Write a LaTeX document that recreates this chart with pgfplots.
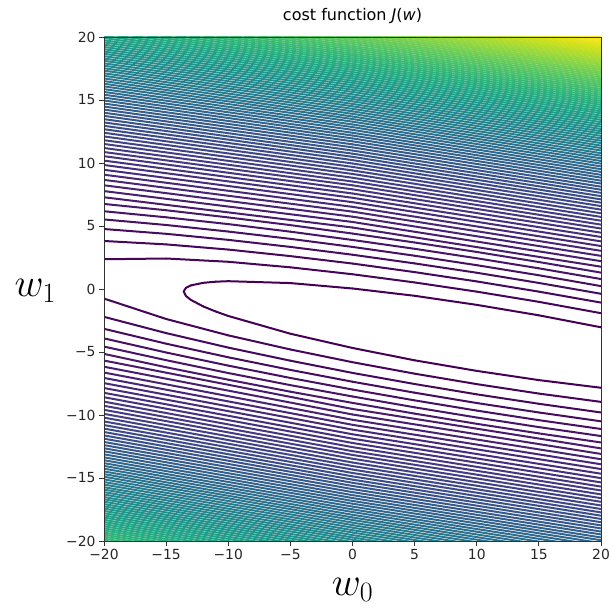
\documentclass[border=0pt]{standalone}
\usepackage{fix-cm}
\usepackage{fontspec}
\setmainfont{DejaVu Sans}
\usepackage{pgfplots}
\pgfplotsset{compat=1.18}
\pgfplotsset{lv/.style={mesh, point meta=#1, line width=2pt, line cap=round, no markers}}
\begin{document}
\begin{tikzpicture}
\begin{axis}[
  name=ax,
  width=497pt, height=504pt, scale only axis,
  xmin=-20, xmax=20, ymin=-20, ymax=20,
  xtick={-20,-15,-10,-5,0,5,10,15,20},
  ytick={-20,-15,-10,-5,0,5,10,15,20},
  xticklabels={−20,−15,−10,−5,0,5,10,15,20},
  yticklabels={−20,−15,−10,−5,0,5,10,15,20},
  tick pos=left, tick align=outside,
  major tick length=4.9pt,
  tick style={black!80, line width=0.8pt},
  axis line style={black!80, line width=0.8pt},
  ticklabel style={font=\fontsize{13.9}{14}\selectfont, text=black!85},
  title={cost function \textit{J}(\textit{w})},
  title style={font=\fontsize{16}{16}\selectfont, at={(0.5,1)}, anchor=base, yshift=10pt},
  colormap/viridis,
  point meta min=1, point meta max=98,
  axis on top,
]
\addplot[lv=1] coordinates {(20,-3.04)(15,-2.09)(10,-1.26)(5,-0.54)(0,0.04)(-5,0.47)(-10,0.62)(-11,0.58)(-12,0.49)(-13,0.29)(-13.4,0.10)(-13.59,-0.20)(-13.4,-0.56)(-13,-0.87)(-12,-1.39)(-11,-1.79)(-10,-2.14)(-5,-3.55)(0,-4.68)(5,-5.66)(10,-6.50)(15,-7.23)(20,-7.84)};
\addplot[lv=2] coordinates {(-20,2.36)(-15,2.42)(-10,2.16)(-5,1.72)(0,1.17)(5,0.52)(10,-0.21)(15,-1.02)(20,-1.92)};
\addplot[lv=2] coordinates {(-20,-0.76)(-15,-2.38)(-10,-3.68)(-5,-4.80)(0,-5.81)(5,-6.72)(10,-7.55)(15,-8.30)(20,-8.96)};
\addplot[lv=3] coordinates {(-20,3.81)(-15,3.54)(-10,3.13)(-5,2.61)(0,2.02)(5,1.34)(10,0.60)(15,-0.21)(20,-1.08)};
\addplot[lv=3] coordinates {(-20,-2.21)(-15,-3.50)(-10,-4.65)(-5,-5.69)(0,-6.66)(5,-7.54)(10,-8.36)(15,-9.11)(20,-9.80)};
\addplot[lv=4] coordinates {(-20,4.76)(-15,4.38)(-10,3.90)(-5,3.34)(0,2.72)(5,2.03)(10,1.29)(15,0.48)(20,-0.38)};
\addplot[lv=4] coordinates {(-20,-3.16)(-15,-4.34)(-10,-5.42)(-5,-6.42)(0,-7.36)(5,-8.23)(10,-9.05)(15,-9.80)(20,-10.50)};
\addplot[lv=5] coordinates {(-20,5.52)(-15,5.08)(-10,4.56)(-5,3.98)(0,3.34)(5,2.64)(10,1.89)(15,1.09)(20,0.23)};
\addplot[lv=5] coordinates {(-20,-3.92)(-15,-5.04)(-10,-6.08)(-5,-7.06)(0,-7.98)(5,-8.84)(10,-9.65)(15,-10.41)(20,-11.11)};
\addplot[lv=6] coordinates {(-20,6.17)(-15,5.69)(-10,5.15)(-5,4.55)(0,3.89)(5,3.19)(10,2.44)(15,1.64)(20,0.79)};
\addplot[lv=6] coordinates {(-20,-4.57)(-15,-5.65)(-10,-6.67)(-5,-7.63)(0,-8.53)(5,-9.39)(10,-10.20)(15,-10.96)(20,-11.67)};
\addplot[lv=7] coordinates {(-20,6.75)(-15,6.25)(-10,5.68)(-5,5.07)(0,4.40)(5,3.69)(10,2.94)(15,2.14)(20,1.30)};
\addplot[lv=7] coordinates {(-20,-5.15)(-15,-6.21)(-10,-7.20)(-5,-8.15)(0,-9.04)(5,-9.89)(10,-10.70)(15,-11.46)(20,-12.18)};
\addplot[lv=8] coordinates {(-20,7.28)(0,4.88)(20,1.77)};
\addplot[lv=8] coordinates {(-20,-5.68)(0,-9.52)(20,-12.65)};
\addplot[lv=9] coordinates {(-20,7.77)(0,5.32)(20,2.21)};
\addplot[lv=9] coordinates {(-20,-6.17)(0,-9.96)(20,-13.09)};
\addplot[lv=10] coordinates {(-20,8.23)(0,5.74)(20,2.63)};
\addplot[lv=10] coordinates {(-20,-6.63)(0,-10.38)(20,-13.51)};
\addplot[lv=11] coordinates {(-20,8.66)(0,6.14)(20,3.03)};
\addplot[lv=11] coordinates {(-20,-7.06)(0,-10.78)(20,-13.91)};
\addplot[lv=12] coordinates {(-20,9.07)(0,6.52)(20,3.41)};
\addplot[lv=12] coordinates {(-20,-7.47)(0,-11.16)(20,-14.29)};
\addplot[lv=13] coordinates {(-20,9.46)(0,6.89)(20,3.78)};
\addplot[lv=13] coordinates {(-20,-7.86)(0,-11.53)(20,-14.66)};
\addplot[lv=14] coordinates {(-20,9.84)(0,7.24)(20,4.13)};
\addplot[lv=14] coordinates {(-20,-8.24)(0,-11.88)(20,-15.01)};
\addplot[lv=15] coordinates {(-20,10.19)(0,7.58)(20,4.47)};
\addplot[lv=15] coordinates {(-20,-8.59)(0,-12.22)(20,-15.35)};
\addplot[lv=16] coordinates {(-20,10.54)(0,7.91)(20,4.80)};
\addplot[lv=16] coordinates {(-20,-8.94)(0,-12.55)(20,-15.68)};
\addplot[lv=17] coordinates {(-20,10.87)(0,8.23)(20,5.11)};
\addplot[lv=17] coordinates {(-20,-9.27)(0,-12.87)(20,-15.99)};
\addplot[lv=18] coordinates {(-20,11.19)(0,8.53)(20,5.42)};
\addplot[lv=18] coordinates {(-20,-9.59)(0,-13.17)(20,-16.30)};
\addplot[lv=19] coordinates {(-20,11.51)(0,8.83)(20,5.72)};
\addplot[lv=19] coordinates {(-20,-9.91)(0,-13.47)(20,-16.60)};
\addplot[lv=20] coordinates {(-20,11.81)(0,9.13)(20,6.01)};
\addplot[lv=20] coordinates {(-20,-10.21)(0,-13.77)(20,-16.89)};
\addplot[lv=21] coordinates {(-20,12.11)(0,9.41)(20,6.30)};
\addplot[lv=21] coordinates {(-20,-10.51)(0,-14.05)(20,-17.18)};
\addplot[lv=22] coordinates {(-20,12.40)(0,9.69)(20,6.58)};
\addplot[lv=22] coordinates {(-20,-10.80)(0,-14.33)(20,-17.46)};
\addplot[lv=23] coordinates {(-20,12.68)(0,9.96)(20,6.85)};
\addplot[lv=23] coordinates {(-20,-11.08)(0,-14.60)(20,-17.73)};
\addplot[lv=24] coordinates {(-20,12.95)(0,10.23)(20,7.11)};
\addplot[lv=24] coordinates {(-20,-11.35)(0,-14.87)(20,-17.99)};
\addplot[lv=25] coordinates {(-20,13.22)(0,10.49)(20,7.37)};
\addplot[lv=25] coordinates {(-20,-11.62)(0,-15.13)(20,-18.25)};
\addplot[lv=26] coordinates {(-20,13.48)(0,10.74)(20,7.63)};
\addplot[lv=26] coordinates {(-20,-11.88)(0,-15.38)(20,-18.51)};
\addplot[lv=27] coordinates {(-20,13.74)(0,10.99)(20,7.88)};
\addplot[lv=27] coordinates {(-20,-12.14)(0,-15.63)(20,-18.76)};
\addplot[lv=28] coordinates {(-20,13.99)(0,11.24)(20,8.12)};
\addplot[lv=28] coordinates {(-20,-12.39)(0,-15.88)(20,-19.00)};
\addplot[lv=29] coordinates {(-20,14.24)(0,11.48)(20,8.37)};
\addplot[lv=29] coordinates {(-20,-12.64)(0,-16.12)(20,-19.25)};
\addplot[lv=30] coordinates {(-20,14.48)(0,11.72)(20,8.60)};
\addplot[lv=30] coordinates {(-20,-12.88)(0,-16.36)(20,-19.48)};
\addplot[lv=31] coordinates {(-20,14.72)(0,11.95)(20,8.84)};
\addplot[lv=31] coordinates {(-20,-13.12)(0,-16.59)(20,-19.72)};
\addplot[lv=32] coordinates {(-20,14.96)(0,12.18)(20,9.06)};
\addplot[lv=32] coordinates {(-20,-13.36)(0,-16.82)(20,-19.94)};
\addplot[lv=33] coordinates {(-20,15.19)(0,12.40)(20,9.29)};
\addplot[lv=33] coordinates {(-20,-13.59)(0,-17.04)(20,-20.17)};
\addplot[lv=34] coordinates {(-20,15.42)(0,12.63)(20,9.51)};
\addplot[lv=34] coordinates {(-20,-13.82)(0,-17.27)(20,-20.39)};
\addplot[lv=35] coordinates {(-20,15.64)(0,12.85)(20,9.73)};
\addplot[lv=35] coordinates {(-20,-14.04)(0,-17.49)(20,-20.61)};
\addplot[lv=36] coordinates {(-20,15.86)(0,13.06)(20,9.95)};
\addplot[lv=36] coordinates {(-20,-14.26)(0,-17.70)(20,-20.83)};
\addplot[lv=37] coordinates {(-20,16.08)(0,13.28)(20,10.16)};
\addplot[lv=37] coordinates {(-20,-14.48)(0,-17.92)(20,-21.04)};
\addplot[lv=38] coordinates {(-20,16.29)(0,13.49)(20,10.37)};
\addplot[lv=38] coordinates {(-20,-14.69)(0,-18.13)(20,-21.25)};
\addplot[lv=39] coordinates {(-20,16.50)(0,13.69)(20,10.58)};
\addplot[lv=39] coordinates {(-20,-14.90)(0,-18.33)(20,-21.46)};
\addplot[lv=40] coordinates {(-20,16.71)(0,13.90)(20,10.78)};
\addplot[lv=40] coordinates {(-20,-15.11)(0,-18.54)(20,-21.66)};
\addplot[lv=41] coordinates {(-20,16.92)(0,14.10)(20,10.99)};
\addplot[lv=41] coordinates {(-20,-15.32)(0,-18.74)(20,-21.87)};
\addplot[lv=42] coordinates {(-20,17.12)(0,14.30)(20,11.19)};
\addplot[lv=42] coordinates {(-20,-15.52)(0,-18.94)(20,-22.07)};
\addplot[lv=43] coordinates {(-20,17.33)(0,14.50)(20,11.38)};
\addplot[lv=43] coordinates {(-20,-15.73)(0,-19.14)(20,-22.26)};
\addplot[lv=44] coordinates {(-20,17.52)(0,14.69)(20,11.58)};
\addplot[lv=44] coordinates {(-20,-15.92)(0,-19.33)(20,-22.46)};
\addplot[lv=45] coordinates {(-20,17.72)(0,14.89)(20,11.77)};
\addplot[lv=45] coordinates {(-20,-16.12)(0,-19.53)(20,-22.65)};
\addplot[lv=46] coordinates {(-20,17.91)(0,15.08)(20,11.96)};
\addplot[lv=46] coordinates {(-20,-16.31)(0,-19.72)(20,-22.84)};
\addplot[lv=47] coordinates {(-20,18.11)(0,15.26)(20,12.15)};
\addplot[lv=47] coordinates {(-20,-16.51)(0,-19.90)(20,-23.03)};
\addplot[lv=48] coordinates {(-20,18.29)(0,15.45)(20,12.34)};
\addplot[lv=48] coordinates {(-20,-16.69)(0,-20.09)(20,-23.22)};
\addplot[lv=49] coordinates {(-20,18.48)(0,15.64)(20,12.52)};
\addplot[lv=49] coordinates {(-20,-16.88)(0,-20.28)(20,-23.40)};
\addplot[lv=50] coordinates {(-20,18.67)(0,15.82)(20,12.70)};
\addplot[lv=50] coordinates {(-20,-17.07)(0,-20.46)(20,-23.58)};
\addplot[lv=51] coordinates {(-20,18.85)(0,16.00)(20,12.88)};
\addplot[lv=51] coordinates {(-20,-17.25)(0,-20.64)(20,-23.76)};
\addplot[lv=52] coordinates {(-20,19.03)(0,16.18)(20,13.06)};
\addplot[lv=52] coordinates {(-20,-17.43)(0,-20.82)(20,-23.94)};
\addplot[lv=53] coordinates {(-20,19.21)(0,16.36)(20,13.24)};
\addplot[lv=53] coordinates {(-20,-17.61)(0,-21.00)(20,-24.12)};
\addplot[lv=54] coordinates {(-20,19.39)(0,16.53)(20,13.42)};
\addplot[lv=54] coordinates {(-20,-17.79)(0,-21.17)(20,-24.30)};
\addplot[lv=55] coordinates {(-20,19.57)(0,16.71)(20,13.59)};
\addplot[lv=55] coordinates {(-20,-17.97)(0,-21.35)(20,-24.47)};
\addplot[lv=56] coordinates {(-20,19.74)(0,16.88)(20,13.76)};
\addplot[lv=56] coordinates {(-20,-18.14)(0,-21.52)(20,-24.64)};
\addplot[lv=57] coordinates {(-20,19.92)(0,17.05)(20,13.94)};
\addplot[lv=57] coordinates {(-20,-18.32)(0,-21.69)(20,-24.82)};
\addplot[lv=58] coordinates {(-20,20.09)(0,17.22)(20,14.10)};
\addplot[lv=58] coordinates {(-20,-18.49)(0,-21.86)(20,-24.98)};
\addplot[lv=59] coordinates {(-20,20.26)(0,17.39)(20,14.27)};
\addplot[lv=59] coordinates {(-20,-18.66)(0,-22.03)(20,-25.15)};
\addplot[lv=60] coordinates {(-20,20.43)(0,17.56)(20,14.44)};
\addplot[lv=60] coordinates {(-20,-18.83)(0,-22.20)(20,-25.32)};
\addplot[lv=61] coordinates {(-20,20.60)(0,17.72)(20,14.61)};
\addplot[lv=61] coordinates {(-20,-19.00)(0,-22.36)(20,-25.49)};
\addplot[lv=62] coordinates {(-20,20.76)(0,17.88)(20,14.77)};
\addplot[lv=62] coordinates {(-20,-19.16)(0,-22.52)(20,-25.65)};
\addplot[lv=63] coordinates {(-20,20.93)(0,18.05)(20,14.93)};
\addplot[lv=63] coordinates {(-20,-19.33)(0,-22.69)(20,-25.81)};
\addplot[lv=64] coordinates {(-20,21.09)(0,18.21)(20,15.09)};
\addplot[lv=64] coordinates {(-20,-19.49)(0,-22.85)(20,-25.97)};
\addplot[lv=65] coordinates {(-20,21.25)(0,18.37)(20,15.25)};
\addplot[lv=65] coordinates {(-20,-19.65)(0,-23.01)(20,-26.13)};
\addplot[lv=66] coordinates {(-20,21.41)(0,18.53)(20,15.41)};
\addplot[lv=66] coordinates {(-20,-19.81)(0,-23.17)(20,-26.29)};
\addplot[lv=67] coordinates {(-20,21.57)(0,18.68)(20,15.57)};
\addplot[lv=67] coordinates {(-20,-19.97)(0,-23.32)(20,-26.45)};
\addplot[lv=68] coordinates {(-20,21.73)(0,18.84)(20,15.73)};
\addplot[lv=69] coordinates {(-20,21.89)(0,19.00)(20,15.88)};
\addplot[lv=70] coordinates {(-20,22.04)(0,19.15)(20,16.04)};
\addplot[lv=71] coordinates {(-20,22.20)(0,19.30)(20,16.19)};
\addplot[lv=72] coordinates {(-20,22.35)(0,19.46)(20,16.34)};
\addplot[lv=73] coordinates {(-20,22.51)(0,19.61)(20,16.49)};
\addplot[lv=74] coordinates {(-20,22.66)(0,19.76)(20,16.64)};
\addplot[lv=75] coordinates {(-20,22.81)(0,19.91)(20,16.79)};
\addplot[lv=76] coordinates {(-20,22.96)(0,20.05)(20,16.94)};
\addplot[lv=77] coordinates {(-20,23.11)(0,20.20)(20,17.09)};
\addplot[lv=78] coordinates {(-20,23.25)(0,20.35)(20,17.23)};
\addplot[lv=79] coordinates {(-20,23.40)(0,20.49)(20,17.38)};
\addplot[lv=80] coordinates {(-20,23.54)(0,20.64)(20,17.52)};
\addplot[lv=81] coordinates {(-20,23.69)(0,20.78)(20,17.66)};
\addplot[lv=82] coordinates {(-20,23.83)(0,20.92)(20,17.81)};
\addplot[lv=83] coordinates {(-20,23.98)(0,21.06)(20,17.95)};
\addplot[lv=84] coordinates {(-20,24.12)(0,21.21)(20,18.09)};
\addplot[lv=85] coordinates {(-20,24.26)(0,21.34)(20,18.23)};
\addplot[lv=86] coordinates {(-20,24.40)(0,21.48)(20,18.37)};
\addplot[lv=87] coordinates {(-20,24.54)(0,21.62)(20,18.51)};
\addplot[lv=88] coordinates {(-20,24.68)(0,21.76)(20,18.64)};
\addplot[lv=89] coordinates {(-20,24.81)(0,21.90)(20,18.78)};
\addplot[lv=90] coordinates {(-20,24.95)(0,22.03)(20,18.92)};
\addplot[lv=91] coordinates {(-20,25.09)(0,22.17)(20,19.05)};
\addplot[lv=92] coordinates {(-20,25.22)(0,22.30)(20,19.19)};
\addplot[lv=93] coordinates {(-20,25.36)(0,22.44)(20,19.32)};
\addplot[lv=94] coordinates {(-20,25.49)(0,22.57)(20,19.45)};
\addplot[lv=95] coordinates {(-20,25.63)(0,22.70)(20,19.58)};
\addplot[lv=96] coordinates {(-20,25.76)(0,22.83)(20,19.72)};
\addplot[lv=97] coordinates {(-20,25.89)(0,22.96)(20,19.85)};
\addplot[lv=98] coordinates {(-20,26.02)(0,23.09)(20,19.98)};
\end{axis}
\node[anchor=base west, font=\fontsize{40}{40}\selectfont] at ([xshift=-93pt, yshift=-8pt]ax.west) {$w_1$};
\node[anchor=base, font=\fontsize{40}{40}\selectfont] at ([yshift=-54pt]ax.south) {$w_0$};
\pgfresetboundingbox
\path ([shift={(-104pt,-68pt)}]ax.south west) rectangle ([shift={(10pt,37pt)}]ax.north east);
\end{tikzpicture}
\end{document}
